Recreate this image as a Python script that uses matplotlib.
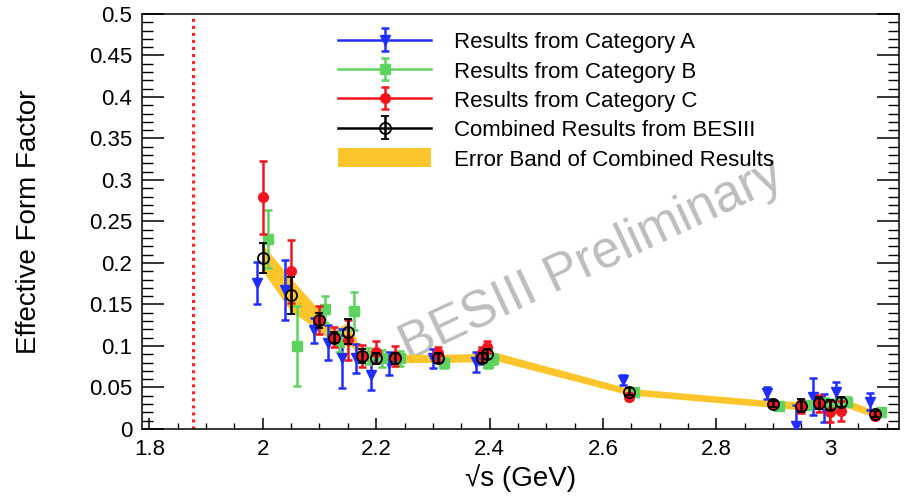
import numpy as np
import matplotlib.pyplot as plt
from matplotlib.ticker import MultipleLocator, FuncFormatter

plt.rcParams['font.family'] = ['Liberation Sans', 'DejaVu Sans']

# centre-of-mass energies (GeV)
energy = [2.0, 2.05, 2.1, 2.125, 2.15, 2.175, 2.2, 2.2324, 2.3094, 2.3864, 2.396,
          2.6454, 2.9, 2.95, 2.981, 3.0, 3.02, 3.08]

# combined BESIII result
comb_ff = [0.206, 0.161, 0.131, 0.110, 0.117, 0.088, 0.085, 0.085, 0.085, 0.086, 0.090,
           0.045, 0.030, 0.028, 0.031, 0.029, 0.033, 0.018]
comb_err = [0.018, 0.022, 0.009, 0.007, 0.015, 0.008, 0.007, 0.007, 0.006, 0.006, 0.006,
            0.004, 0.004, 0.008, 0.007, 0.006, 0.006, 0.004]
band_err = [0.016, 0.020, 0.012, 0.008, 0.012, 0.006, 0.005, 0.005, 0.005, 0.005, 0.005,
            0.004, 0.004, 0.005, 0.005, 0.005, 0.005, 0.004]

# category A
a_ff = [0.176, 0.167, 0.119, 0.104, 0.085, 0.085, 0.065, 0.079, 0.085, 0.081, 0.088,
        0.059, 0.043, 0.003, 0.039, 0.025, 0.045, 0.033]
a_err = [0.025, 0.036, 0.015, 0.021, 0.036, 0.017, 0.018, 0.014, 0.011, 0.012, 0.010,
         0.006, 0.007, 0.026, 0.022, 0.017, 0.012, 0.010]

# category B
b_ff = [0.229, 0.100, 0.144, 0.105, 0.142, 0.088, 0.085, 0.085, 0.080, 0.080, 0.084,
        0.045, 0.028, 0.029, 0.031, 0.030, 0.033, 0.020]
b_err = [0.035, 0.048, 0.016, 0.012, 0.023, 0.010, 0.010, 0.009, 0.006, 0.006, 0.006,
         0.004, 0.004, 0.005, 0.006, 0.006, 0.005, 0.004]

# category C
c_ff = [0.279, 0.190, 0.131, 0.111, 0.107, 0.088, 0.093, 0.088, 0.091, 0.091, 0.099,
        0.039, 0.030, 0.027, 0.031, 0.021, 0.022, 0.016]
c_err = [0.044, 0.038, 0.017, 0.012, 0.024, 0.013, 0.013, 0.012, 0.008, 0.008, 0.007,
         0.004, 0.004, 0.008, 0.010, 0.013, 0.012, 0.004]

threshold = 1.8765  # 2 m_p

fig = plt.figure(figsize=(9.08, 4.98), dpi=100)
ax = fig.add_axes([0.1564, 0.1386, 0.8337, 0.8333])

e = np.array(energy)
cf = np.array(comb_ff)
be = np.array(band_err)

ax.axvline(threshold, color='#ff2222', ls=(0, (1, 1.3)), lw=2.2, zorder=1)
band = ax.fill_between(e, cf - be, cf + be, color='#fdc52c', lw=0, zorder=2)

ax.text(0.594, 0.405, 'BESIII Preliminary', transform=ax.transAxes, rotation=25,
        rotation_mode='anchor', ha='center', va='center', fontsize=37,
        color='#bdbdbd', zorder=1.5)

common = dict(lw=1.8, capsize=3, capthick=1.8, ms=7)
hA = ax.errorbar(e - 0.01, a_ff, yerr=a_err, fmt='v-', color='#1f2dff', zorder=3, **common)
hB = ax.errorbar(e + 0.01, b_ff, yerr=b_err, fmt='s-', color='#5fd35f', zorder=3, **common)
hC = ax.errorbar(e, c_ff, yerr=c_err, fmt='o-', color='#f5141e', zorder=4, **common)
hD = ax.errorbar(e, cf, yerr=comb_err, fmt='o-', color='black', mfc='none', mew=1.3,
                 ms=8, lw=1.8, capsize=3, capthick=1.8, zorder=5)

labels = ['Results from Category A', 'Results from Category B', 'Results from Category C',
          'Combined Results from BESIII', 'Error Band of Combined Results']
ax.legend([hA, hB, hC, hD, band], labels, loc='upper left',
          bbox_to_anchor=(338 / 908, 1 - 31 / 498), bbox_transform=fig.transFigure,
          frameon=False, fontsize=16, handlelength=4.2, handleheight=0.95,
          handletextpad=1.0, labelspacing=0.32, borderpad=0, borderaxespad=0,
          numpoints=1)
# points are not joined in the plot, only in the legend keys
for h in (hA, hB, hC, hD):
    h[0].set_linestyle('none')

ax.set_xlim(1.787, 3.122)
ax.set_ylim(0, 0.5)
ax.xaxis.set_major_locator(MultipleLocator(0.2))
ax.xaxis.set_minor_locator(MultipleLocator(0.05))
ax.yaxis.set_major_locator(MultipleLocator(0.05))
ax.yaxis.set_minor_locator(MultipleLocator(0.01))
fmt = FuncFormatter(lambda v, p: '%g' % round(v, 3))
ax.xaxis.set_major_formatter(fmt)
ax.yaxis.set_major_formatter(fmt)

ax.tick_params(which='both', direction='in', right=True, top=False, labelsize=16, pad=7)
ax.tick_params(axis='y', which='major', length=16, width=1.1)
ax.tick_params(axis='y', which='minor', length=8, width=1.0)
ax.tick_params(axis='x', which='major', length=8, width=1.1)
ax.tick_params(axis='x', which='minor', length=4, width=1.0)
for s in ax.spines.values():
    s.set_linewidth(1.1)

ax.set_xlabel('√s (GeV)', fontsize=20, labelpad=3)
ax.set_ylabel('Effective Form Factor', fontsize=20, labelpad=34)

fig.savefig('out.png', dpi=100)
